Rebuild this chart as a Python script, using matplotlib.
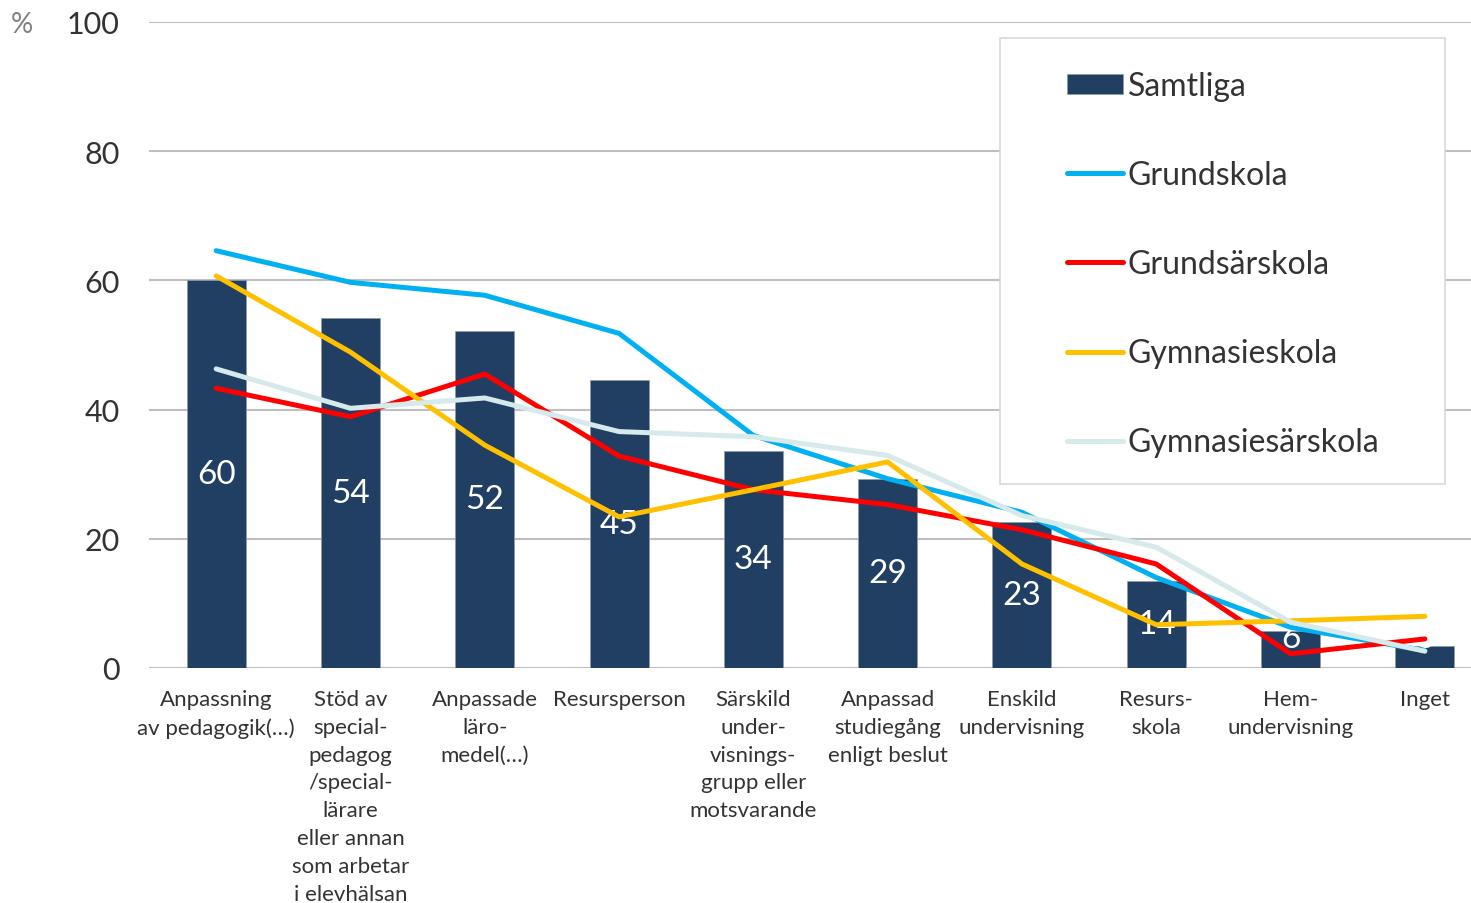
import matplotlib.pyplot as plt
from matplotlib.patches import Rectangle
import numpy as np

plt.rcParams['font.family'] = ['Lato', 'DejaVu Sans']

categories = [
    "Anpassning\nav pedagogik(…)",
    "Stöd av\nspecial-\npedagog\n/special-\nlärare\neller annan\nsom arbetar\ni elevhälsan",
    "Anpassade\nläro-\nmedel(…)",
    "Resursperson",
    "Särskild\nunder-\nvisnings-\ngrupp eller\nmotsvarande",
    "Anpassad\nstudiegång\nenligt beslut",
    "Enskild\nundervisning",
    "Resurs-\nskola",
    "Hem-\nundervisning",
    "Inget",
]
samtliga = [60.1, 54.2, 52.2, 44.6, 33.6, 29.3, 22.6, 13.5, 5.7, 3.4]
grundskola = [64.6, 59.7, 57.7, 51.8, 36.0, 29.3, 24.1, 14.0, 6.3, 2.7]
grundsarskola = [43.3, 38.9, 45.5, 32.8, 27.6, 25.3, 21.4, 16.1, 2.2, 4.5]
gymnasieskola = [60.7, 48.9, 34.5, 23.4, 27.6, 31.9, 16.1, 6.7, 7.3, 8.0]
gymnasiesarskola = [46.3, 40.2, 41.8, 36.6, 35.8, 32.9, 23.6, 18.7, 7.1, 2.6]
yticks = [0, 20, 40, 60, 80, 100]

text_col = '#333333'
grid_col = '#BFBFBF'

fig = plt.figure(figsize=(14.71, 9.04), dpi=100)
# axes runs past the right edge, like the cropped original
ax = fig.add_axes([149 / 1471, 1 - 669 / 904, 1343 / 1471, 646 / 904])

x = np.arange(len(categories))
bars = ax.bar(x, samtliga, width=0.44, color='#203F63', edgecolor='#8E9BAA',
              linewidth=0.5, zorder=2, label='Samtliga')

series = [
    (grundskola, '#00B0F0', 'Grundskola'),
    (grundsarskola, '#FF0000', 'Grundsärskola'),
    (gymnasieskola, '#FFC000', 'Gymnasieskola'),
    (gymnasiesarskola, '#D6E9EB', 'Gymnasiesärskola'),
]
for vals, col, name in series:
    ax.plot(x, vals, color=col, lw=3.6, solid_capstyle='round', zorder=4, label=name)

# value labels centred in bars, kept off the baseline for short bars
for xi, v in zip(x, samtliga):
    ax.text(xi, max(v / 2, 4.7), f"{v:.0f}", ha='center', va='center',
            color='white', fontsize=24, zorder=3)

ax.set_xlim(-0.5, len(categories) - 0.5)
ax.set_ylim(0, 100)
ax.set_yticks(yticks)
ax.yaxis.grid(True, color=grid_col, lw=1.5, zorder=0)
ax.set_axisbelow(True)
for s in ax.spines.values():
    s.set_visible(False)
ax.tick_params(axis='y', length=0, pad=21, labelsize=22, labelcolor=text_col)
ax.tick_params(axis='x', length=0, pad=15, labelsize=16, labelcolor=text_col)
ax.set_xticks(x)
ax.set_xticklabels(categories, linespacing=1.49, va='top')

fig.text(22 / 1471, 1 - 25 / 904, '%', color='#808080', fontsize=20, ha='center', va='center')

# legend with its own frame
fig.patches.append(Rectangle((1000 / 1471, 1 - 485 / 904), 445 / 1471, 446 / 904,
                             transform=fig.transFigure, facecolor='white',
                             edgecolor='#D9D9D9', lw=1.2, zorder=5))
handles, labels = ax.get_legend_handles_labels()
order = [labels.index('Samtliga')] + [i for i, l in enumerate(labels) if l != 'Samtliga']
leg = fig.legend([handles[i] for i in order], [labels[i] for i in order],
                 loc='upper left', bbox_to_anchor=(1051 / 1471, 1 - 56 / 904),
                 frameon=False, fontsize=23, labelspacing=1.85, handlelength=1.75,
                 handletextpad=0.15, handleheight=0.6, borderpad=0)
for t in leg.get_texts():
    t.set_color(text_col)
leg.set_zorder(6)

fig.savefig('out.png', dpi=100)
